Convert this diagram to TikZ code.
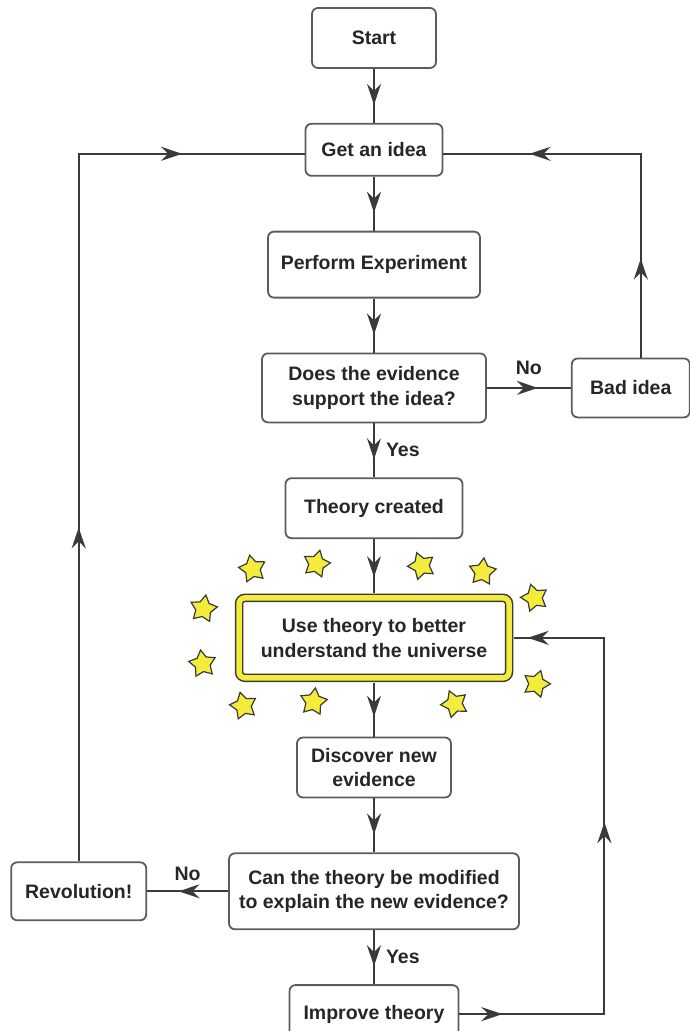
\documentclass[tikz,border=0pt]{standalone}
\usepackage{fontspec}
\setmainfont{Liberation Sans}
\usetikzlibrary{positioning}
\usetikzlibrary{shapes.geometric}
\usetikzlibrary{arrows.meta}
\usetikzlibrary{decorations.markings}
\usetikzlibrary{calc}
\definecolor{linegray}{HTML}{3A3A3A}
\definecolor{boxgray}{HTML}{5C5C5C}
\definecolor{textgray}{HTML}{262626}
\definecolor{staryellow}{HTML}{F3EC3A}
\newcommand{\Lyes}{Yes}
\newcommand{\Lno}{No}
\newcommand{\boxfont}{\bfseries\fontsize{19.5}{24.5}\selectfont}
\tikzset{flowtip/.tip={Stealth[length=21pt,width=14pt,inset=7pt]}}
\tikzstyle{stepbox} = [draw=boxgray, line width=1.8pt, rounded corners=6pt, fill=white, inner sep=0pt, align=center, text=textgray, font=\boxfont]
\tikzstyle{mainbox} = [stepbox, draw=linegray, line width=1.5pt, double=staryellow, double distance=5.5pt]
\tikzstyle{starmark} = [star, star points=5, star point ratio=1.8, minimum size=28pt, inner sep=0pt, fill=staryellow, draw=linegray, line width=1.2pt]
\tikzstyle{flow} = [draw=linegray, line width=2pt, postaction={decorate}, decoration={markings, mark=at position 0.5 with {\arrow[xshift=9pt]{flowtip}}}]
\tikzstyle{edgelabel} = [text=textgray, font=\boxfont, inner sep=0pt]

\begin{document}
\begin{tikzpicture}[node distance=54pt,
  twomarks/.style 2 args={draw=linegray, line width=2pt, postaction={decorate},
    decoration={markings, mark=at position #1 with {\arrow[xshift=9pt]{flowtip}},
                          mark=at position #2 with {\arrow[xshift=9pt]{flowtip}}}},
  threemarks/.style n args={3}{draw=linegray, line width=2pt, postaction={decorate},
    decoration={markings, mark=at position #1 with {\arrow[xshift=9pt]{flowtip}},
                          mark=at position #2 with {\arrow[xshift=9pt]{flowtip}},
                          mark=at position #3 with {\arrow[xshift=9pt]{flowtip}}}}]
\useasboundingbox (0,0) rectangle (689pt,-1031pt);

% Define nodes
\node[stepbox, minimum width=124pt, minimum height=60pt] (start) at (374pt,-38pt) {Start};
\node[stepbox, below = of start, minimum width=137pt, minimum height=52pt]    (idea)     {Get an idea};
\node[stepbox, below = of idea, minimum width=212pt, minimum height=66pt]     (perform)  {Perform Experiment};
\node[stepbox, below = of perform, minimum width=224pt, minimum height=69pt]  (does)     {Does the evidence\\support the idea?};
\node[stepbox, right = 84pt of does, minimum width=118pt, minimum height=59pt] (bad)     {Bad idea};
\node[stepbox, below = of does, minimum width=177pt, minimum height=60pt]     (theory)   {Theory created};
\node[mainbox, below = 58pt of theory, minimum width=270pt, minimum height=80pt] (universe) {Use theory to better\\understand the universe};
\node[stepbox, below = 58pt of universe, minimum width=154pt, minimum height=60pt] (discover) {Discover new\\evidence};
\node[stepbox, below = of discover, minimum width=290pt, minimum height=76pt] (modify)   {Can the theory be modified\\to explain the new evidence?};
\node[stepbox, left = 81pt of modify, minimum width=135pt, minimum height=58pt] (revolution) {Revolution!};
\node[stepbox, below = of modify, minimum width=169pt, minimum height=58pt]   (improve)  {Improve theory};

% Stars round the main box
\foreach \x/\y/\r [count=\i] in {-121.5/69/12, -57.5/74/-14, 47.5/72/20, 108.5/66/-6,
    160.5/40/16, -170.5/29/-10, -171.5/-26/8, 162.5/-46/-18, -130.5/-68/14, -60.5/-64/-8, 80.5/-66/22}
  \node[starmark, rotate=\r] (star\i) at ($(universe)+(\x pt,\y pt)$) {};

% Edges
\draw[flow] (start) -- (idea);
\draw[flow] (idea) -- (perform);
\draw[flow] (perform) -- (does);
\draw[flow] (does) -- node[edgelabel, above=12pt] {\Lno} (bad);
\draw[flow] (does) -- node[edgelabel, right=11pt] {\Lyes} (theory);
\draw[flow, shorten >=4.4pt] (theory) -- (universe);
\draw[flow, shorten <=4.4pt] (universe) -- (discover);
\draw[flow] (discover) -- (modify);
\draw[flow] (modify) -- node[edgelabel, above=10pt] {\Lno} (revolution);
\draw[flow] (modify) -- node[edgelabel, right=11pt] {\Lyes} (improve);

\draw[twomarks={325pt}{802pt}] (revolution.north) |- ([yshift=-4pt]idea.west);
\draw[twomarks={90pt}{306pt}] ([xshift=10pt]bad.north) |- ([yshift=-4pt]idea.east);
\draw[threemarks={34pt}{328pt}{589pt}, shorten >=4.4pt] (improve.east) -- ++(145pt,0) |- (universe.east);
\end{tikzpicture}
\end{document}
